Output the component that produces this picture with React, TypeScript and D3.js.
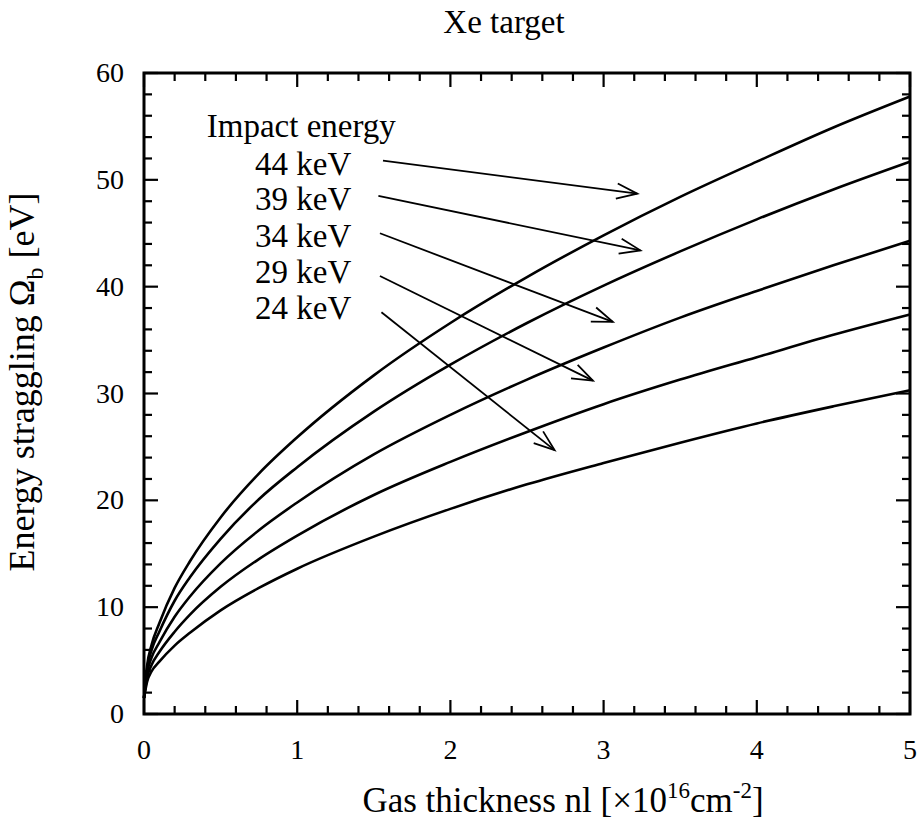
import React, { useEffect, useRef } from 'react';
import * as d3 from 'd3';

// gas thickness nl [x10^16 cm^-2]
const thickness = [0, 0.02, 0.05, 0.1, 0.2, 0.3, 0.5, 0.75, 1, 1.5, 2, 2.5, 3, 3.5, 4, 4.5, 5];

// energy straggling Omega_b [eV], one array per impact energy
const omega44 = [1.5, 4.5, 6.5, 8.5, 11.8, 14.3, 18.4, 22.5, 25.9, 31.7, 36.6, 40.9, 44.8, 48.4, 51.7, 54.9, 57.8];
const omega39 = [1.5, 4.2, 6.0, 7.7, 10.6, 12.8, 16.4, 20.1, 23.1, 28.3, 32.7, 36.6, 40.1, 43.3, 46.3, 49.1, 51.7];
const omega34 = [1.5, 3.8, 5.3, 6.7, 9.1, 11.0, 14.1, 17.2, 19.8, 24.3, 28.0, 31.3, 34.3, 37.1, 39.6, 42.0, 44.3];
const omega29 = [1.5, 3.4, 4.6, 5.8, 7.7, 9.3, 11.9, 14.5, 16.7, 20.5, 23.6, 26.4, 29.0, 31.3, 33.4, 35.5, 37.4];
const omega24 = [1.5, 3.0, 4.0, 4.9, 6.4, 7.6, 9.7, 11.8, 13.6, 16.6, 19.2, 21.5, 23.5, 25.4, 27.2, 28.8, 30.3];

const energyLabels = ['44 keV', '39 keV', '34 keV', '29 keV', '24 keV'];
const series = [omega44, omega39, omega34, omega29, omega24];

// annotation arrows, in data units
const labelY = [50.45, 47.2, 43.7, 40.3, 37.0];
const arrowStart = [[1.56, 51.8], [1.53, 48.5], [1.54, 45.0], [1.54, 41.0], [1.55, 37.6]];
const arrowEnd = [[3.22, 48.7], [3.24, 43.4], [3.06, 36.7], [2.93, 31.2], [2.68, 24.7]];

const xTicks = [0, 1, 2, 3, 4, 5];
const yTicks = [0, 10, 20, 30, 40, 50, 60];

const W = 921;
const H = 827;
const margin = { left: 144, right: 11, top: 73, bottom: 113 };
const FONT = '"Liberation Serif", "Times New Roman", serif';

export default function App() {
  const svgRef = useRef<SVGSVGElement>(null);

  useEffect(() => {
    const svg = d3.select(svgRef.current);
    svg.selectAll('*').remove();

    const x = d3.scaleLinear().domain([0, 5]).range([margin.left, W - margin.right]);
    const y = d3.scaleLinear().domain([0, 60]).range([H - margin.bottom, margin.top]);
    const [x0, x1] = x.range();
    const [y0, y1] = y.range();

    const g = svg.append('g');

    // ticks on all four sides, pointing inward
    const xMinor = d3.range(0, 5.001, 0.2);
    const yMinor = d3.range(0, 60.001, 2);
    const tickG = g.append('g').attr('stroke', '#000').attr('stroke-width', 2.2);
    xMinor.forEach(v => {
      const major = Math.abs(v - Math.round(v)) < 1e-6;
      const len = major ? 14 : 8;
      tickG.append('line').attr('x1', x(v)).attr('x2', x(v)).attr('y1', y0).attr('y2', y0 - len);
      tickG.append('line').attr('x1', x(v)).attr('x2', x(v)).attr('y1', y1).attr('y2', y1 + len);
    });
    yMinor.forEach(v => {
      const major = v % 10 === 0;
      const len = major ? 14 : 8;
      tickG.append('line').attr('y1', y(v)).attr('y2', y(v)).attr('x1', x0).attr('x2', x0 + len);
      tickG.append('line').attr('y1', y(v)).attr('y2', y(v)).attr('x1', x1).attr('x2', x1 - len);
    });

    // frame
    g.append('rect')
      .attr('x', x0).attr('y', y1)
      .attr('width', x1 - x0).attr('height', y0 - y1)
      .attr('fill', 'none').attr('stroke', '#000').attr('stroke-width', 3);

    // tick labels
    g.selectAll('.xl').data(xTicks).enter().append('text')
      .attr('x', d => x(d)).attr('y', y0 + 45)
      .attr('text-anchor', 'middle')
      .attr('font-family', FONT).attr('font-size', 28)
      .text(d => d);
    g.selectAll('.yl').data(yTicks).enter().append('text')
      .attr('x', x0 - 20).attr('y', d => y(d) + 9)
      .attr('text-anchor', 'end')
      .attr('font-family', FONT).attr('font-size', 28)
      .text(d => d);

    // curves
    const line = d3.line<number>()
      .x((_, i) => x(thickness[i]))
      .y(d => y(d))
      .curve(d3.curveMonotoneX);
    g.selectAll('.curve').data(series).enter().append('path')
      .attr('d', d => line(d))
      .attr('fill', 'none').attr('stroke', '#000').attr('stroke-width', 2.6);

    // annotation text
    g.append('text')
      .attr('x', x(0.41)).attr('y', y(54.0))
      .attr('font-family', FONT).attr('font-size', 33)
      .text('Impact energy');
    g.selectAll('.el').data(energyLabels).enter().append('text')
      .attr('x', x(0.725)).attr('y', (_, i) => y(labelY[i]))
      .attr('font-family', FONT).attr('font-size', 33)
      .text(d => d);

    // arrows with open heads
    const arrowG = g.append('g').attr('stroke', '#000').attr('stroke-width', 1.8).attr('fill', 'none');
    arrowStart.forEach((s, i) => {
      const e = arrowEnd[i];
      const sx = x(s[0]), sy = y(s[1]), ex = x(e[0]), ey = y(e[1]);
      arrowG.append('line').attr('x1', sx).attr('y1', sy).attr('x2', ex).attr('y2', ey);
      const ang = Math.atan2(ey - sy, ex - sx);
      const hl = 22, ha = 0.35;
      const p1 = [ex - hl * Math.cos(ang - ha), ey - hl * Math.sin(ang - ha)];
      const p2 = [ex - hl * Math.cos(ang + ha), ey - hl * Math.sin(ang + ha)];
      arrowG.append('path').attr('d', `M${p1[0]},${p1[1]}L${ex},${ey}L${p2[0]},${p2[1]}`);
    });

    // title
    svg.append('text')
      .attr('x', 504).attr('y', 33)
      .attr('text-anchor', 'middle')
      .attr('font-family', FONT).attr('font-size', 33)
      .text('Xe target');

    // x axis title
    const xt = svg.append('text')
      .attr('x', 563).attr('y', 812)
      .attr('text-anchor', 'middle')
      .attr('font-family', FONT).attr('font-size', 35);
    xt.append('tspan').text('Gas thickness nl [\u00d710');
    xt.append('tspan').attr('dy', -14).attr('font-size', 23).text('16');
    xt.append('tspan').attr('dy', 14).text('cm');
    xt.append('tspan').attr('dy', -14).attr('font-size', 23).text('-2');
    xt.append('tspan').attr('dy', 14).text(']');

    // y axis title
    const yt = svg.append('text')
      .attr('transform', `translate(34,382) rotate(-90)`)
      .attr('text-anchor', 'middle')
      .attr('font-family', FONT).attr('font-size', 36);
    yt.append('tspan').text('Energy  straggling \u03a9');
    yt.append('tspan').attr('dy', 9).attr('font-size', 24).text('b');
    yt.append('tspan').attr('dy', -9).text(' [eV]');
  }, []);

  return (
    <svg
      ref={svgRef}
      width={W}
      height={H}
      style={{ position: 'absolute', left: 0, top: 0, background: '#fff' }}
    />
  );
}
